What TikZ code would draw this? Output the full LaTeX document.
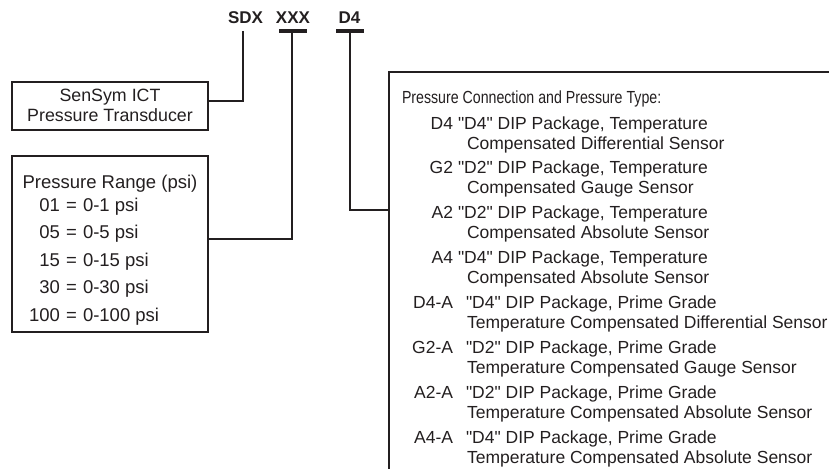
\documentclass[tikz,border=0pt]{standalone}
\usepackage{fontspec}
\setmainfont{Liberation Sans}[Ligatures=TeXOff]
\newfontfamily\narrowfont{Liberation Sans}[FakeStretch=0.81, Ligatures=TeXOff]
\definecolor{ink}{HTML}{231F20}
\begin{document}
\begin{tikzpicture}[x=1pt,y=-1pt,
  every node/.style={inner sep=0pt, outer sep=0pt, text=ink, font=\fontsize{17.5}{20}\selectfont},
  leftfont/.style={font=\fontsize{18.5}{20.5}\selectfont},
  sensymfont/.style={font=\fontsize{17.8}{20}\selectfont},
  boxstyle/.style={draw=ink, line width=1.5pt},
  wire/.style={draw=ink, line width=1.5pt},
  bar/.style={draw=ink, line width=4pt},
  lbl/.style={anchor=base west},
  code/.style={anchor=base east},
  head/.style={anchor=base, font=\fontsize{17}{20}\selectfont\bfseries}]
\useasboundingbox (0,0) rectangle (829,468);

% header codes
\node[head] (sdx) at (245.5,24) {SDX};
\node[head] (xxx) at (293,24) {XXX};
\node[head] (dfour) at (349.5,24) {D4};

% bars
\coordinate (xxxL) at (279,31); \coordinate (xxxR) at (307,31);
\coordinate (d4L) at (336,31); \coordinate (d4R) at (364,31);
\draw[bar] (xxxL) -- (xxxR);
\draw[bar] (d4L) -- (d4R);

% boxes
\node[boxstyle, anchor=north west, minimum width=196pt, minimum height=48pt] (sensym) at (12,82) {};
\node[sensymfont, align=center] (sensymtxt) at (110,105.5) {SenSym ICT\\Pressure Transducer};

\node[boxstyle, anchor=north west, minimum width=196pt, minimum height=176pt] (range) at (12,156) {};
\node[leftfont, anchor=base] (rangetitle) at (110,188.5) {Pressure Range (psi)};
\node[leftfont, code] (r1) at (60,211) {01};   \node[leftfont, anchor=base] (e1) at (71.5,211) {=}; \node[leftfont, lbl] (v1) at (83,211) {0-1 psi};
\node[leftfont, code] (r2) at (60,238.5) {05}; \node[leftfont, anchor=base] (e2) at (71.5,238.5) {=}; \node[leftfont, lbl] (v2) at (83,238.5) {0-5 psi};
\node[leftfont, code] (r3) at (60,266) {15};   \node[leftfont, anchor=base] (e3) at (71.5,266) {=}; \node[leftfont, lbl] (v3) at (83,266) {0-15 psi};
\node[leftfont, code] (r4) at (60,293.5) {30}; \node[leftfont, anchor=base] (e4) at (71.5,293.5) {=}; \node[leftfont, lbl] (v4) at (83,293.5) {0-30 psi};
\node[leftfont, code] (r5) at (60,321) {100};  \node[leftfont, anchor=base] (e5) at (71.5,321) {=}; \node[leftfont, lbl] (v5) at (83,321) {0-100 psi};

\node[boxstyle, anchor=north west, minimum width=520pt, minimum height=440pt] (conn) at (389,72) {};
\node[lbl, font=\fontsize{17.5}{20}\narrowfont] (connhead) at (402,104) {Pressure Connection and Pressure Type:};

\node[code] (c1) at (453,129) {D4};
\node[lbl] (c1a) at (458,129) {"D4" DIP Package, Temperature};
\node[lbl] (c1b) at (467,149) {Compensated Differential Sensor};
\node[code] (c2) at (453,173.9) {G2};
\node[lbl] (c2a) at (458,173.9) {"D2" DIP Package, Temperature};
\node[lbl] (c2b) at (467,193.9) {Compensated Gauge Sensor};
\node[code] (c3) at (453,218.8) {A2};
\node[lbl] (c3a) at (458,218.8) {"D2" DIP Package, Temperature};
\node[lbl] (c3b) at (467,238.8) {Compensated Absolute Sensor};
\node[code] (c4) at (453,263.7) {A4};
\node[lbl] (c4a) at (458,263.7) {"D4" DIP Package, Temperature};
\node[lbl] (c4b) at (467,283.7) {Compensated Absolute Sensor};
\node[code] (c5) at (453,308.6) {D4-A};
\node[lbl] (c5a) at (466,308.6) {"D4" DIP Package, Prime Grade};
\node[lbl] (c5b) at (467,328.6) {Temperature Compensated Differential Sensor};
\node[code] (c6) at (453,353.5) {G2-A};
\node[lbl] (c6a) at (466,353.5) {"D2" DIP Package, Prime Grade};
\node[lbl] (c6b) at (467,373.5) {Temperature Compensated Gauge Sensor};
\node[code] (c7) at (453,398.4) {A2-A};
\node[lbl] (c7a) at (466,398.4) {"D2" DIP Package, Prime Grade};
\node[lbl] (c7b) at (467,418.4) {Temperature Compensated Absolute Sensor};
\node[code] (c8) at (453,443.3) {A4-A};
\node[lbl] (c8a) at (466,443.3) {"D4" DIP Package, Prime Grade};
\node[lbl] (c8b) at (467,463.3) {Temperature Compensated Absolute Sensor};

% connectors
\coordinate (sdxtop) at (243,31);
\coordinate (sdxknee) at (243,101);
\draw[wire] (sdxtop) -- (sdxknee) -- (sdxknee -| sensym.east);
\coordinate (xxxtop) at (292,31);
\coordinate (xxxknee) at (292,239);
\draw[wire] (xxxtop) -- (xxxknee) -- (xxxknee -| range.east);
\coordinate (d4top) at (350,31);
\coordinate (d4knee) at (350,210);
\draw[wire] (d4top) -- (d4knee) -- (d4knee -| conn.west);
\end{tikzpicture}
\end{document}
